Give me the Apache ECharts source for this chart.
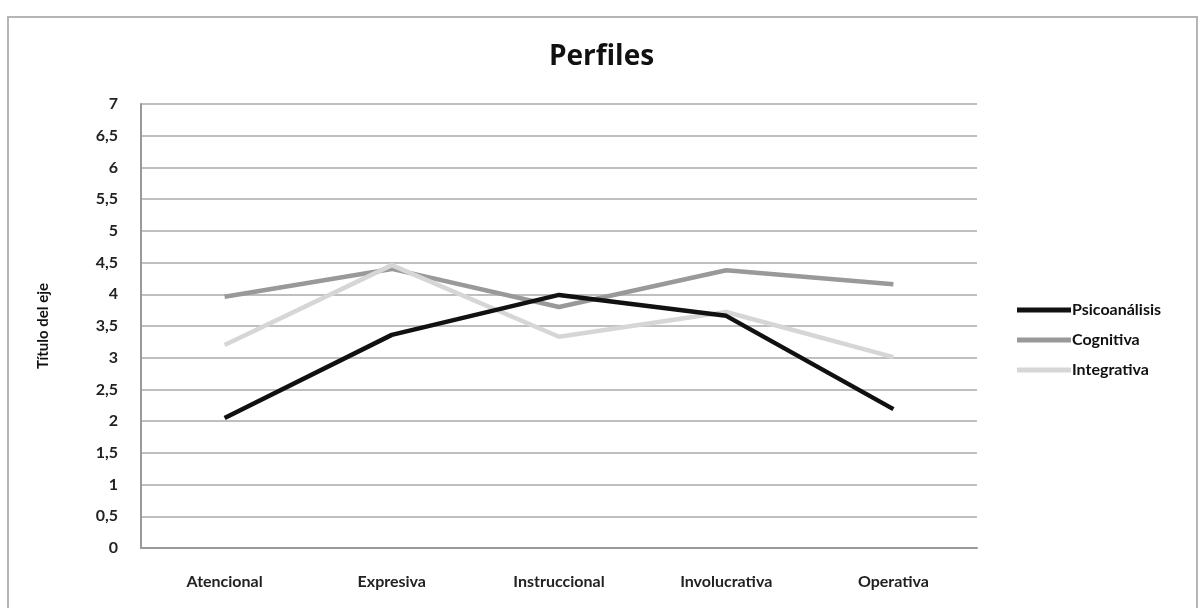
<!DOCTYPE html>
<html lang="es">
<head>
    <meta charset="UTF-8">
    <title>Perfiles</title>
    <script src="https://cdn.jsdelivr.net/npm/echarts@6/dist/echarts.min.js"></script>
    <style>
        body { margin: 0; background: #fff; }
        #frame { position: absolute; left: 7px; top: 16px; width: 1187px; height: 600px; border: 2px solid #b5b5b5; }
        #main { position: absolute; left: 0; top: 0; width: 1203px; height: 608px; }
    </style>
</head>
<body>
<div id="frame"></div>
<div id="main"></div>
<script>
    // categorías y series
    var categorias = ['Atencional', 'Expresiva', 'Instruccional', 'Involucrativa', 'Operativa'];
    var psicoanalisis = [2.05, 3.36, 3.99, 3.66, 2.19];
    var cognitiva = [3.96, 4.4, 3.8, 4.38, 4.16];
    var integrativa = [3.2, 4.46, 3.33, 3.72, 3.01];

    var fuente = 'Lato, "Open Sans", sans-serif';
    var myChart = echarts.init(document.getElementById('main'));

    function serie(nombre, datos, color) {
        return {
            name: nombre,
            type: 'line',
            data: datos,
            symbol: 'none',
            z: nombre === 'Psicoanálisis' ? 3 : 2,
            lineStyle: { color: color, width: 4.5 },
            itemStyle: { color: color }
        };
    }

    myChart.setOption({
        animation: false,
        title: {
            text: 'Perfiles',
            left: 'center',
            top: 38,
            textStyle: { fontFamily: '"Open Sans", sans-serif', fontSize: 28, fontWeight: 'bold', color: '#111' }
        },
        legend: {
            orient: 'vertical',
            left: 1012,
            top: 297,
            icon: 'rect',
            itemWidth: 54,
            itemHeight: 5,
            itemGap: 14,
            textStyle: { fontFamily: fuente, fontSize: 16, fontWeight: 'bold', color: '#111', padding: [0, 0, 0, -4] },
            data: ['Psicoanálisis', 'Cognitiva', 'Integrativa']
        },
        grid: { left: 141, right: 226, top: 104, bottom: 60 },
        xAxis: {
            type: 'category',
            data: categorias,
            axisLine: { lineStyle: { color: '#999', width: 2 } },
            axisTick: { show: false },
            axisLabel: { margin: 26, fontFamily: fuente, fontSize: 16, fontWeight: 'bold', color: '#222' }
        },
        yAxis: {
            type: 'value',
            min: 0,
            max: 7,
            interval: 0.5,
            name: 'Título del eje',
            nameLocation: 'middle',
            nameGap: 90,
            nameTextStyle: { fontFamily: fuente, fontSize: 15, fontWeight: 'bold', color: '#111' },
            axisLine: { show: true, lineStyle: { color: '#999', width: 2 } },
            axisTick: { show: false },
            splitLine: { lineStyle: { color: '#aaa', width: 1.5 } },
            axisLabel: {
                margin: 23,
                fontFamily: fuente,
                fontSize: 16,
                fontWeight: 'bold',
                color: '#222',
                formatter: function (v) { return String(v).replace('.', ','); }
            }
        },
        series: [
            serie('Psicoanálisis', psicoanalisis, '#111111'),
            serie('Cognitiva', cognitiva, '#999999'),
            serie('Integrativa', integrativa, '#d6d6d6')
        ]
    });
</script>
</body>
</html>
